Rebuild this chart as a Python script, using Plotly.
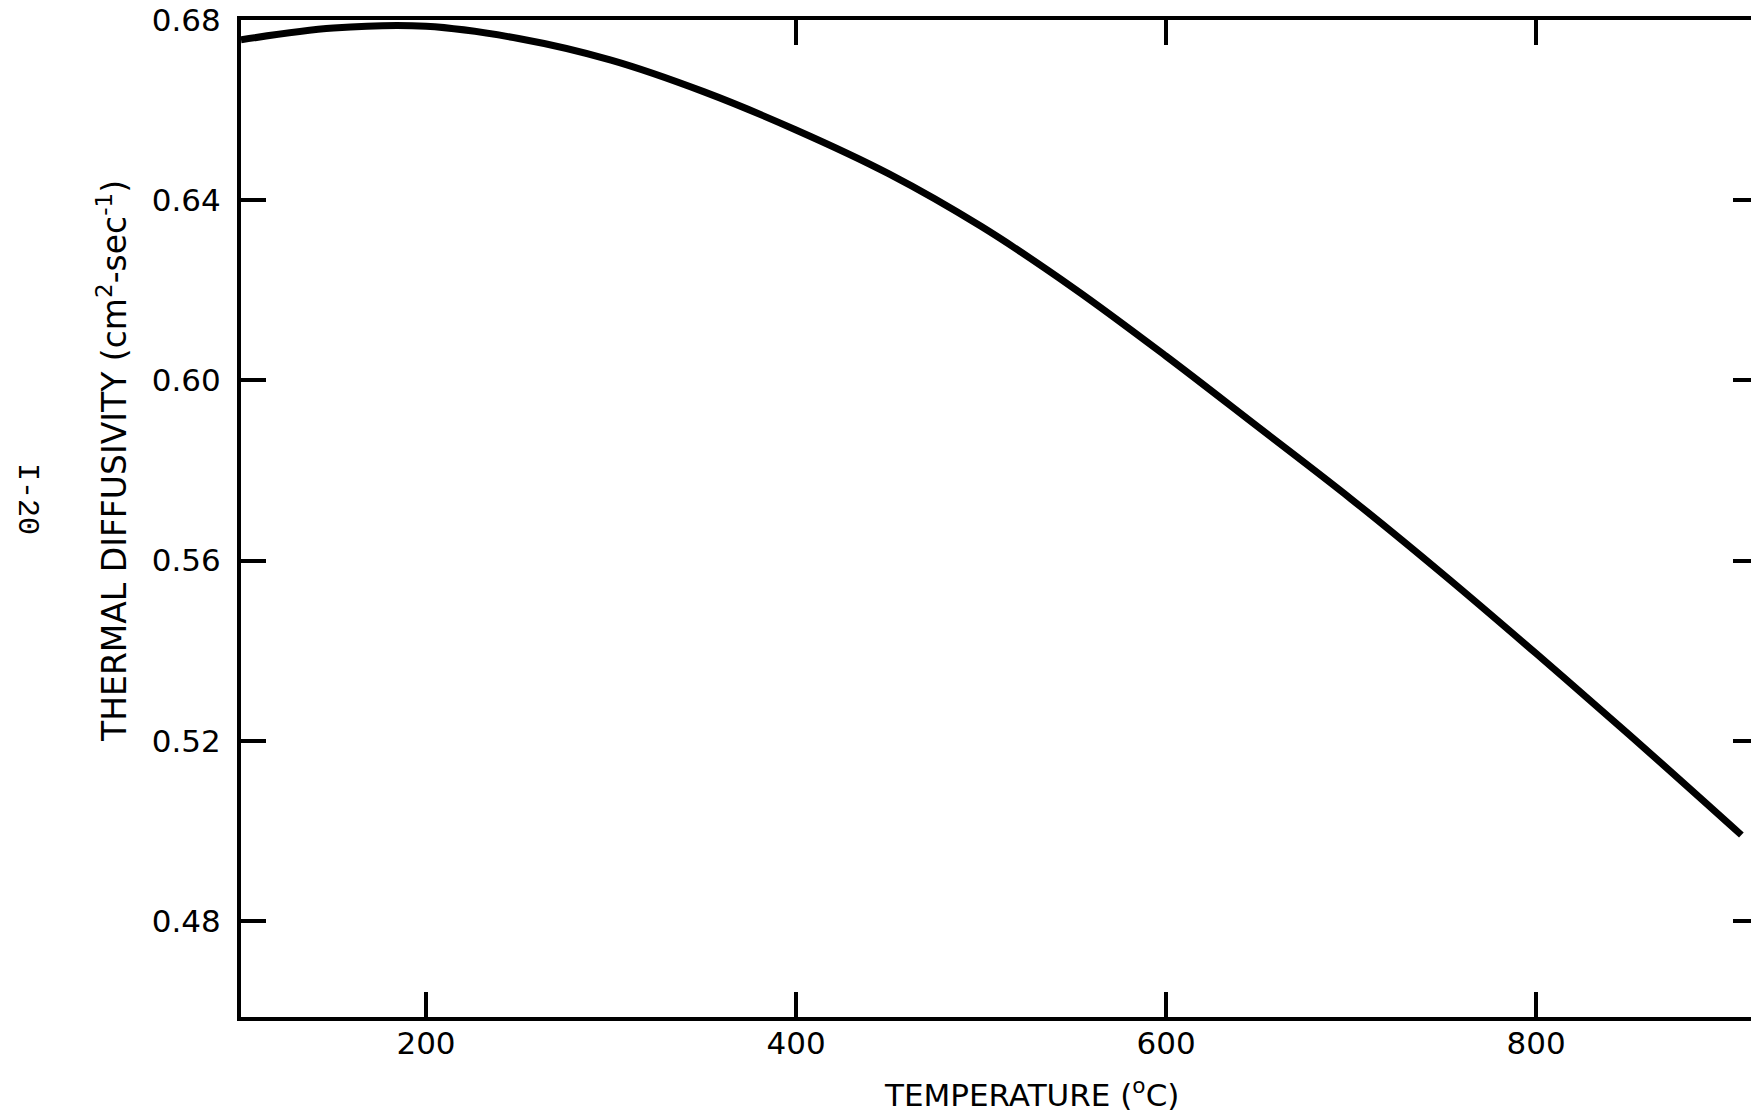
import plotly.graph_objects as go

# Data
temperature_c = [100, 150, 200, 250, 300, 350, 400, 450, 500, 550, 600,
                 650, 700, 750, 800, 850, 911]
diffusivity = [0.6756, 0.6782, 0.6786, 0.6759, 0.6711, 0.6641, 0.6556, 0.6459,
               0.6342, 0.6205, 0.6054, 0.5896, 0.5737, 0.5569, 0.5394, 0.5215,
               0.4991]

x_ticks = [200, 400, 600, 800]
x_top_ticks = [400, 600, 800]
y_ticks = [0.48, 0.52, 0.56, 0.60, 0.64, 0.68]
y_tick_labels = ["0.48", "0.52", "0.56", "0.60", "0.64", "0.68"]
y_right_ticks = [0.48, 0.52, 0.56, 0.60, 0.64]

x_range = [100, 916.2]
y_range = [0.4587, 0.68]

FONT = "DejaVu Sans"

fig = go.Figure()
fig.add_trace(go.Scatter(
    x=temperature_c, y=diffusivity, mode="lines",
    line=dict(color="black", width=7, shape="spline", smoothing=1.0),
    showlegend=False, hoverinfo="skip",
))
# invisible traces to activate secondary axes
fig.add_trace(go.Scatter(x=[None], y=[None], xaxis="x2", yaxis="y", showlegend=False))
fig.add_trace(go.Scatter(x=[None], y=[None], xaxis="x", yaxis="y2", showlegend=False))

fig.update_layout(
    width=1751, height=1118,
    margin=dict(l=241, r=0, t=20, b=101),
    paper_bgcolor="white", plot_bgcolor="white",
    font=dict(family=FONT, color="black"),
    xaxis=dict(
        range=x_range, tickvals=x_ticks, ticktext=[str(v) for v in x_ticks],
        ticks="inside", ticklen=25, tickwidth=4, tickcolor="black",
        showline=True, linewidth=4, linecolor="black",
        showgrid=False, zeroline=False,
        tickfont=dict(family=FONT, size=31, color="black"),
        ticklabelstandoff=-4,
    ),
    xaxis2=dict(
        range=x_range, overlaying="x", side="top", anchor="y",
        tickvals=x_top_ticks, showticklabels=False,
        ticks="inside", ticklen=25, tickwidth=4, tickcolor="black",
        showline=True, linewidth=4, linecolor="black",
        showgrid=False, zeroline=False,
    ),
    yaxis=dict(
        range=y_range, tickvals=y_ticks, ticktext=y_tick_labels,
        ticks="inside", ticklen=25, tickwidth=4, tickcolor="black",
        showline=True, linewidth=4, linecolor="black",
        showgrid=False, zeroline=False,
        tickfont=dict(family=FONT, size=31, color="black"),
        ticklabelstandoff=10,
    ),
    yaxis2=dict(
        range=y_range, overlaying="y", side="right", anchor="x",
        tickvals=y_right_ticks, showticklabels=False,
        ticks="inside", ticklen=18, tickwidth=4, tickcolor="black",
        showline=False, showgrid=False, zeroline=False,
    ),
    annotations=[
        dict(text="THERMAL DIFFUSIVITY (cm<sup>2</sup>-sec<sup>-1</sup>)",
             xref="paper", yref="paper", x=-0.0848, y=0.5577,
             xanchor="center", yanchor="middle", textangle=-90,
             showarrow=False, font=dict(family=FONT, size=33, color="black")),
        dict(text="TEMPERATURE (<sup>o</sup>C)",
             xref="paper", yref="paper", x=0.5238, y=-0.0762,
             xanchor="center", yanchor="middle",
             showarrow=False, font=dict(family=FONT, size=31, color="black")),
        dict(text="I-20",
             xref="paper", yref="paper", x=-0.1417, y=0.5196,
             xanchor="center", yanchor="middle", textangle=90,
             showarrow=False, font=dict(family="Liberation Mono", size=30, color="black")),
    ],
)

fig.write_html("out.html")
